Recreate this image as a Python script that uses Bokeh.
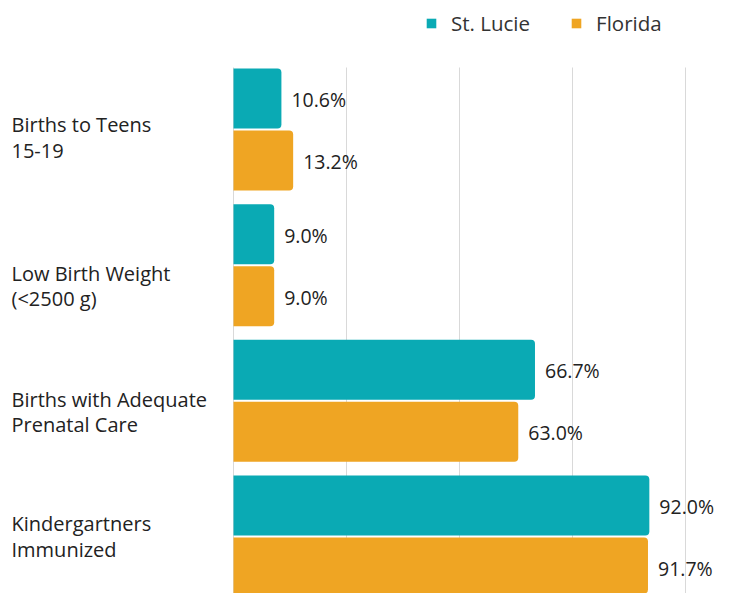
from bokeh.plotting import figure
from bokeh.models import Range1d, Grid, FixedTicker, Legend, LegendItem, ColumnDataSource
from bokeh.core.properties import value
from bokeh.embed import file_html
from bokeh.resources import INLINE

# ---- data ----
categories = ["Births to Teens\n15-19", "Low Birth Weight\n(<2500 g)",
              "Births with Adequate\nPrenatal Care", "Kindergartners\nImmunized"]
series_names = ["St. Lucie", "Florida"]
st_lucie = [10.6, 9.0, 66.7, 92.0]
florida = [13.2, 9.0, 63.0, 91.7]
grid_ticks = [0, 25, 50, 75, 100]

# ---- styling ----
FONT = "Open Sans"
TEAL = "#0AAAB4"
ORANGE = "#EFA523"
W, H = 730, 593
GRID_TOP_PX = 67               # gridlines start this far below the figure top
FIRST_CENTER_PX = 129          # first category centre below the figure top
LEFT_PX = 233                  # screen px from figure left to value 0
PX_PER_UNIT = 4.52             # screen px per percent
PITCH = 135.67                 # screen px per category
BAR_PX = 60
OFF_PX = 31
label_nudge_px = [8, 21, 11, 0]   # vertical nudges of category labels (px, down)

x_start = -LEFT_PX / PX_PER_UNIT
x_end = (W - LEFT_PX) / PX_PER_UNIT
y_top = FIRST_CENTER_PX / PITCH
y_bottom = y_top - H / PITCH
y_grid_top = y_top - GRID_TOP_PX / PITCH

n = len(categories)
ys = [-i for i in range(n)]
off = OFF_PX / PITCH
bar_h = BAR_PX / PITCH

p = figure(width=W, height=H, output_backend="svg", toolbar_location=None,
           x_range=Range1d(x_start, x_end), y_range=Range1d(y_bottom, y_top),
           x_axis_location=None, y_axis_location=None,
           min_border_left=0, min_border_right=0, min_border_bottom=0, min_border_top=0)
p.outline_line_color = None
p.background_fill_color = "white"
p.border_fill_color = "white"
p.center = [r for r in p.center if not isinstance(r, Grid)]

grid = Grid(dimension=0, ticker=FixedTicker(ticks=grid_ticks),
            cross_bounds=(y_bottom, y_grid_top),
            grid_line_color="#d9d9d9", grid_line_width=1)
p.add_layout(grid)

src_a = ColumnDataSource(dict(y=[y + off for y in ys], v=st_lucie,
                              t=[f"{v:.1f}%" for v in st_lucie]))
src_b = ColumnDataSource(dict(y=[y - off for y in ys], v=florida,
                              t=[f"{v:.1f}%" for v in florida]))

ra = p.hbar(y="y", right="v", left=0, height=bar_h, source=src_a,
            fill_color=TEAL, line_color=None, border_radius=(0, 4, 4, 0))
rb = p.hbar(y="y", right="v", left=0, height=bar_h, source=src_b,
            fill_color=ORANGE, line_color=None, border_radius=(0, 4, 4, 0))

for src in (src_a, src_b):
    p.text(x="v", y="y", text="t", source=src, x_offset=10, y_offset=1,
           text_align="left", text_baseline="middle",
           text_font=value(FONT), text_font_size="19.5px", text_color="#222222")

lab_src = ColumnDataSource(dict(
    x=[x_start] * n,
    y=[y - d / PITCH for y, d in zip(ys, label_nudge_px)],
    t=categories))
p.text(x="x", y="y", text="t", source=lab_src, x_offset=11,
       text_align="left", text_baseline="middle", text_line_height=0.93,
       text_font=value(FONT), text_font_size="20px", text_color="#222222")

legend = Legend(items=[LegendItem(label=series_names[0], renderers=[ra]),
                       LegendItem(label=series_names[1], renderers=[rb])],
                orientation="horizontal", location=(425, 556),
                glyph_width=12, glyph_height=12, label_standoff=14, spacing=40,
                padding=0, margin=0, border_line_color=None, background_fill_alpha=0,
                label_text_font=FONT, label_text_font_size="20.5px",
                label_text_color="#333333")
p.add_layout(legend)

open("out.html", "w").write(file_html(p, INLINE))
